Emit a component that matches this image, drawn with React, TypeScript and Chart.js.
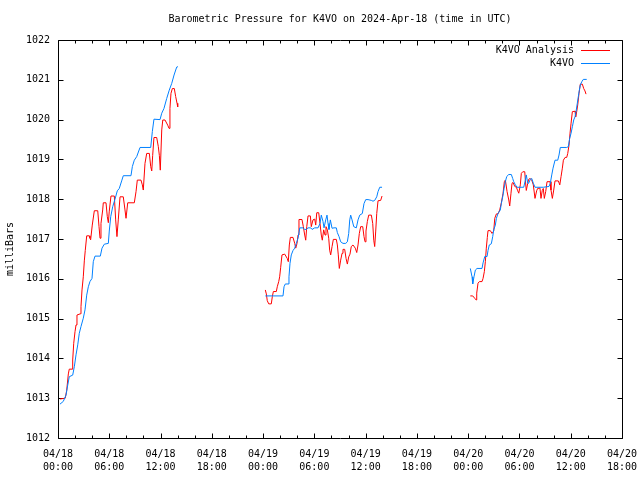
import React, { useEffect, useRef } from "react";
import { Chart, registerables } from "chart.js";

Chart.register(...registerables);

const TITLE = "Barometric Pressure for K4VO on 2024-Apr-18 (time in UTC)";
const Y_LABEL = "milliBars";
const SERIES_NAMES = ["K4VO Analysis", "K4VO"];
const SERIES_COLORS = ["#ff0000", "#0080ff"];
const X_TICK_DATES = ["04/18", "04/18", "04/18", "04/18", "04/19", "04/19", "04/19", "04/19", "04/20", "04/20", "04/20", "04/20"];
const X_TICK_TIMES = ["00:00", "06:00", "12:00", "18:00", "00:00", "06:00", "12:00", "18:00", "00:00", "06:00", "12:00", "18:00"];
const Y_MIN = 1012;
const Y_MAX = 1022;
const X_MAX_HOURS = 66;

// [hours since 04/18 00:00 UTC, millibars]
const analysisSeg1 = [
  [0.23, 1012.98], [0.85, 1013.0], [1.02, 1013.2], [1.21, 1013.61], [1.32, 1013.73], [1.64, 1013.73],
  [1.72, 1013.96], [1.84, 1014.38], [1.99, 1014.67], [2.11, 1014.84], [2.22, 1015.09], [2.61, 1015.12],
  [2.69, 1015.3], [2.81, 1015.72], [2.96, 1016.05], [3.08, 1016.45], [3.19, 1016.71], [3.36, 1017.08],
  [3.66, 1017.08], [3.74, 1017.02], [3.82, 1016.98], [4.01, 1017.35], [4.25, 1017.71], [4.65, 1017.71],
  [4.8, 1017.31], [4.92, 1017.02], [5.03, 1017.39], [5.23, 1017.73], [5.3, 1017.91], [5.62, 1017.91],
  [5.77, 1017.56], [5.89, 1017.41], [6.0, 1017.7], [6.2, 1018.08], [6.59, 1018.08], [6.75, 1017.48],
  [6.9, 1017.06], [7.06, 1017.5], [7.26, 1018.06], [7.64, 1018.06], [7.84, 1017.73], [7.96, 1017.52],
  [8.16, 1017.91], [8.93, 1017.91], [9.13, 1018.19], [9.28, 1018.48], [9.71, 1018.48], [9.87, 1018.36],
  [9.98, 1018.23], [10.18, 1018.9], [10.38, 1019.15], [10.69, 1019.15], [10.85, 1018.82], [10.97, 1018.71],
  [11.08, 1019.1], [11.23, 1019.55], [11.55, 1019.55], [11.74, 1019.32], [11.86, 1019.1], [11.97, 1018.73],
  [12.14, 1019.74], [12.26, 1019.99], [12.52, 1019.99], [12.84, 1019.86], [12.99, 1019.78], [13.1, 1020.28],
  [13.22, 1020.66], [13.38, 1020.78], [13.61, 1020.78], [13.77, 1020.58], [13.93, 1020.41], [14.01, 1020.32],
];
const analysisSeg2 = [
  [24.26, 1015.72], [24.38, 1015.62], [24.49, 1015.45], [24.66, 1015.37], [24.96, 1015.37], [25.08, 1015.55],
  [25.2, 1015.68], [25.55, 1015.68], [25.66, 1015.8], [25.83, 1015.93], [25.94, 1016.05], [26.06, 1016.29],
  [26.21, 1016.6], [26.53, 1016.62], [26.83, 1016.51], [26.95, 1016.43], [27.07, 1016.85], [27.19, 1017.04],
  [27.5, 1017.04], [27.7, 1016.89], [27.82, 1016.77], [27.97, 1016.89], [28.09, 1017.1], [28.2, 1017.49],
  [28.55, 1017.49], [28.71, 1017.31], [28.87, 1017.1], [28.99, 1016.97], [29.11, 1017.31], [29.26, 1017.58],
  [29.53, 1017.58], [29.64, 1017.31], [29.84, 1017.48], [30.04, 1017.5], [30.16, 1017.35], [30.28, 1017.66],
  [30.51, 1017.66], [30.66, 1017.39], [30.81, 1017.1], [30.93, 1016.97], [31.09, 1017.23], [31.25, 1017.1],
  [31.36, 1017.31], [31.52, 1017.23], [31.68, 1017.02], [31.79, 1016.72], [31.91, 1016.6], [32.07, 1016.81],
  [32.22, 1016.99], [32.57, 1016.99], [32.69, 1016.85], [32.8, 1016.6], [32.92, 1016.26], [33.08, 1016.47],
  [33.24, 1016.64], [33.35, 1016.74], [33.55, 1016.74], [33.71, 1016.51], [33.86, 1016.37], [34.02, 1016.55],
  [34.17, 1016.62], [34.32, 1016.81], [34.52, 1016.85], [34.79, 1016.77], [34.96, 1016.66], [35.11, 1016.85],
  [35.26, 1017.14], [35.42, 1017.31], [35.66, 1017.31], [35.81, 1017.06], [35.93, 1016.93], [36.04, 1017.2],
  [36.2, 1017.44], [36.36, 1017.6], [36.67, 1017.6], [36.83, 1017.39], [36.95, 1016.97], [37.06, 1016.81],
  [37.18, 1017.2], [37.3, 1017.64], [37.45, 1017.96], [37.76, 1017.97], [37.92, 1018.08],
];
const analysisSeg3 = [
  [48.25, 1015.57], [48.53, 1015.57], [48.77, 1015.51], [48.92, 1015.47], [49.0, 1015.64], [49.15, 1015.89],
  [49.31, 1015.93], [49.62, 1015.93], [49.74, 1016.01], [49.89, 1016.18], [50.01, 1016.43], [50.12, 1016.77],
  [50.24, 1017.04], [50.32, 1017.21], [50.59, 1017.21], [50.79, 1017.14], [50.99, 1017.2], [51.11, 1017.52],
  [51.3, 1017.63], [51.49, 1017.63], [51.69, 1017.73], [51.88, 1017.91], [52.08, 1018.15], [52.23, 1018.44],
  [52.35, 1018.48], [52.55, 1018.19], [52.75, 1017.98], [52.86, 1017.83], [53.01, 1018.15], [53.13, 1018.4],
  [53.25, 1018.42], [53.45, 1018.32], [53.64, 1018.3], [53.8, 1018.21], [53.92, 1018.15], [54.1, 1018.36],
  [54.22, 1018.65], [54.39, 1018.69], [54.62, 1018.69], [54.69, 1018.48], [54.8, 1018.22], [54.97, 1018.4],
  [55.08, 1018.5], [55.24, 1018.52], [55.44, 1018.48], [55.62, 1018.36], [55.82, 1018.02], [56.01, 1018.21],
  [56.13, 1018.27], [56.4, 1018.28], [56.52, 1018.02], [56.67, 1018.22], [56.79, 1018.27], [56.91, 1018.02],
  [57.07, 1018.19], [57.23, 1018.44], [57.58, 1018.44], [57.69, 1018.23], [57.85, 1018.02], [58.01, 1018.23],
  [58.16, 1018.46], [58.55, 1018.46], [58.72, 1018.36], [58.87, 1018.57], [59.02, 1018.78], [59.14, 1018.98],
  [59.34, 1019.05], [59.53, 1019.05], [59.65, 1019.15], [59.8, 1019.36], [59.92, 1019.66], [60.04, 1019.91],
  [60.19, 1020.2], [60.5, 1020.21], [60.58, 1020.07], [60.7, 1020.2], [60.82, 1020.37], [60.97, 1020.66],
  [61.12, 1020.89], [61.36, 1020.89], [61.52, 1020.78], [61.67, 1020.72], [61.79, 1020.64], [61.87, 1020.64],
];

const k4voSeg1 = [
  [0.23, 1012.85], [0.62, 1012.92], [0.94, 1013.08], [1.14, 1013.33], [1.32, 1013.54], [1.72, 1013.58],
  [1.91, 1013.79], [2.11, 1014.09], [2.31, 1014.34], [2.49, 1014.63], [2.69, 1014.8], [2.96, 1015.01],
  [3.16, 1015.22], [3.36, 1015.59], [3.55, 1015.8], [3.74, 1015.93], [3.98, 1016.01], [4.13, 1016.43],
  [4.33, 1016.57], [4.95, 1016.57], [5.15, 1016.77], [5.42, 1016.87], [5.89, 1016.89], [6.0, 1017.2],
  [6.17, 1017.56], [6.4, 1017.81], [6.67, 1018.0], [6.94, 1018.21], [7.17, 1018.27], [7.45, 1018.46],
  [7.64, 1018.59], [8.54, 1018.59], [8.7, 1018.82], [8.93, 1018.98], [9.21, 1019.07], [9.6, 1019.3],
  [10.85, 1019.3], [11.04, 1019.7], [11.23, 1020.01], [11.94, 1020.0], [12.14, 1020.16], [12.4, 1020.28],
  [12.72, 1020.53], [13.02, 1020.74], [13.31, 1020.91], [13.58, 1021.12], [13.89, 1021.32], [14.04, 1021.33],
];
const k4voSeg2 = [
  [24.26, 1015.57], [26.33, 1015.57], [26.45, 1015.8], [26.6, 1015.87], [26.92, 1015.87], [27.03, 1016.05],
  [27.15, 1016.39], [27.3, 1016.6], [27.5, 1016.71], [27.7, 1016.77], [27.89, 1016.89], [28.09, 1017.02],
  [28.29, 1017.28], [28.67, 1017.28], [28.87, 1017.24], [29.06, 1017.24], [29.26, 1017.28], [29.57, 1017.28],
  [29.73, 1017.24], [30.04, 1017.28], [30.43, 1017.28], [30.66, 1017.39], [30.81, 1017.6], [31.01, 1017.44],
  [31.13, 1017.28], [31.33, 1017.48], [31.48, 1017.6], [31.6, 1017.39], [31.71, 1017.24], [31.87, 1017.48],
  [32.07, 1017.27], [32.3, 1017.28], [32.57, 1017.28], [32.69, 1017.16], [32.89, 1017.06], [33.08, 1016.93],
  [33.35, 1016.89], [33.67, 1016.89], [33.86, 1016.93], [34.02, 1017.14], [34.14, 1017.48], [34.25, 1017.6],
  [34.41, 1017.48], [34.61, 1017.31], [34.91, 1017.28], [35.11, 1017.48], [35.31, 1017.6], [35.61, 1017.64],
  [35.81, 1017.89], [36.01, 1017.99], [36.28, 1017.99], [36.67, 1017.97], [36.86, 1017.95], [37.06, 1017.97],
  [37.3, 1018.06], [37.45, 1018.19], [37.65, 1018.3], [37.92, 1018.3],
];
const k4voSeg3 = [
  [48.25, 1016.26], [48.45, 1016.05], [48.53, 1015.87], [48.68, 1016.05], [48.84, 1016.22], [49.04, 1016.26],
  [49.62, 1016.26], [49.74, 1016.4], [49.94, 1016.56], [50.21, 1016.56], [50.32, 1016.71], [50.47, 1016.85],
  [50.71, 1016.88], [50.87, 1017.06], [50.99, 1017.23], [51.18, 1017.35], [51.3, 1017.52], [51.49, 1017.64],
  [51.76, 1017.73], [51.88, 1017.89], [52.04, 1018.06], [52.2, 1018.27], [52.35, 1018.44], [52.51, 1018.57],
  [52.75, 1018.62], [53.05, 1018.62], [53.21, 1018.52], [53.33, 1018.44], [53.52, 1018.36], [53.72, 1018.3],
  [54.5, 1018.3], [54.69, 1018.48], [54.8, 1018.61], [54.97, 1018.4], [55.08, 1018.4], [55.27, 1018.5],
  [55.44, 1018.52], [55.62, 1018.4], [55.82, 1018.3], [56.79, 1018.3], [57.46, 1018.32], [57.61, 1018.4],
  [57.78, 1018.61], [57.93, 1018.78], [58.16, 1018.98], [58.48, 1018.98], [58.63, 1019.11], [58.78, 1019.3],
  [59.53, 1019.3], [59.72, 1019.32], [59.88, 1019.53], [60.04, 1019.66], [60.19, 1019.82], [60.35, 1019.99],
  [60.5, 1020.07], [60.62, 1020.2], [60.77, 1020.41], [60.89, 1020.58], [61.01, 1020.74], [61.12, 1020.87],
  [61.29, 1020.95], [61.47, 1021.01], [61.87, 1021.01],
];

const FONT = "'DejaVu Sans Mono', 'Liberation Mono', monospace";

function joinSegments(segs: number[][][]) {
  const out: { x: number; y: number | null }[] = [];
  segs.forEach((seg, i) => {
    if (i > 0) out.push({ x: (segs[i - 1][segs[i - 1].length - 1][0] + seg[0][0]) / 2, y: null });
    seg.forEach(([x, y]) => out.push({ x, y }));
  });
  return out;
}

const gnuplotFrame = {
  id: "gnuplotFrame",
  beforeDatasetsDraw(chart: any) {
    const { ctx, chartArea: a, scales } = chart;
    const xs = scales.x;
    const ys = scales.y;
    ctx.save();
    ctx.strokeStyle = "#000";
    ctx.lineWidth = 1;
    ctx.beginPath();
    const L = Math.round(a.left) + 0.5;
    const R = Math.round(a.right) + 0.5;
    const T = Math.round(a.top) + 0.5;
    const B = Math.round(a.bottom) + 0.5;
    ctx.rect(L, T, R - L, B - T);
    for (let h = 0; h <= X_MAX_HOURS; h += 2) {
      const px = Math.round(xs.getPixelForValue(h)) + 0.5;
      const len = h % 6 === 0 ? 5 : 3;
      ctx.moveTo(px, B);
      ctx.lineTo(px, B - len);
      ctx.moveTo(px, T);
      ctx.lineTo(px, T + len);
    }
    for (let v = Y_MIN; v <= Y_MAX; v += 1) {
      const py = Math.round(ys.getPixelForValue(v)) + 0.5;
      ctx.moveTo(L, py);
      ctx.lineTo(L + 5, py);
      ctx.moveTo(R, py);
      ctx.lineTo(R - 5, py);
    }
    ctx.stroke();

    // title centred over the plot area
    ctx.font = `10px ${FONT}`;
    ctx.fillStyle = "#000";
    ctx.textAlign = "center";
    ctx.textBaseline = "middle";
    ctx.fillText(TITLE, (a.left + a.right) / 2, 19);

    // rotated y-axis label
    ctx.save();
    ctx.translate(10, (a.top + a.bottom) / 2 + 10);
    ctx.rotate(-Math.PI / 2);
    ctx.fillText(Y_LABEL, 0, 0);
    ctx.restore();
    ctx.restore();
  },
  afterDraw(chart: any) {
    const { ctx, chartArea: a } = chart;
    ctx.save();
    ctx.font = `10px ${FONT}`;
    ctx.fillStyle = "#000";
    ctx.textAlign = "right";
    ctx.textBaseline = "middle";
    SERIES_NAMES.forEach((name, i) => {
      const y = Math.round(a.top + 10 + i * 13);
      ctx.fillText(name, a.right - 48, y);
      ctx.strokeStyle = SERIES_COLORS[i];
      ctx.lineWidth = 1;
      ctx.beginPath();
      ctx.moveTo(a.right - 41, y + 0.5);
      ctx.lineTo(a.right - 12, y + 0.5);
      ctx.stroke();
    });
    ctx.restore();
  },
};

export default function App() {
  const ref = useRef<HTMLCanvasElement | null>(null);
  useEffect(() => {
    if (!ref.current) return;
    const chart = new Chart(ref.current, {
      type: "line",
      data: {
        datasets: [
          {
            label: SERIES_NAMES[1],
            data: joinSegments([k4voSeg1, k4voSeg2, k4voSeg3]) as any,
            borderColor: SERIES_COLORS[1],
            borderWidth: 1,
            pointRadius: 0,
            tension: 0,
            spanGaps: false,
          },
          {
            label: SERIES_NAMES[0],
            data: joinSegments([analysisSeg1, analysisSeg2, analysisSeg3]) as any,
            borderColor: SERIES_COLORS[0],
            borderWidth: 1,
            pointRadius: 0,
            tension: 0,
            spanGaps: false,
          },
        ],
      },
      options: {
        responsive: false,
        animation: false,
        devicePixelRatio: 1,
        layout: { padding: { left: 0, right: 18, top: 40, bottom: 0 } },
        plugins: {
          legend: { display: false },
          tooltip: { enabled: false },
          title: { display: false },
        },
        scales: {
          x: {
            type: "linear",
            min: 0,
            max: X_MAX_HOURS,
            grid: { display: false, drawTicks: false, tickLength: 0 },
            border: { display: false },
            ticks: {
              stepSize: 6,
              autoSkip: false,
              maxRotation: 0,
              color: "#000",
              padding: 10,
              font: { family: FONT, size: 10, lineHeight: 1.3 },
              callback: (v: any) => {
                const i = Math.round(Number(v) / 6);
                return [X_TICK_DATES[i], X_TICK_TIMES[i]];
              },
            },
            afterFit: (s: any) => {
              s.height = 42;
              s.paddingLeft = 0;
              s.paddingRight = 0;
            },
          },
          y: {
            type: "linear",
            min: Y_MIN,
            max: Y_MAX,
            grid: { display: false, drawTicks: false, tickLength: 0 },
            border: { display: false },
            title: { display: false },
            ticks: {
              stepSize: 1,
              color: "#000",
              padding: 8,
              font: { family: FONT, size: 10 },
              callback: (v: any) => String(v),
            },
            afterFit: (s: any) => {
              s.width = 58;
              s.paddingTop = 0;
              s.paddingBottom = 0;
            },
          },
        },
      },
      plugins: [gnuplotFrame],
    });
    return () => chart.destroy();
  }, []);
  return (
    <div style={{ position: "fixed", left: 0, top: 0, width: 640, height: 480, background: "#fff" }}>
      <canvas ref={ref} width={640} height={480} />
    </div>
  );
}
